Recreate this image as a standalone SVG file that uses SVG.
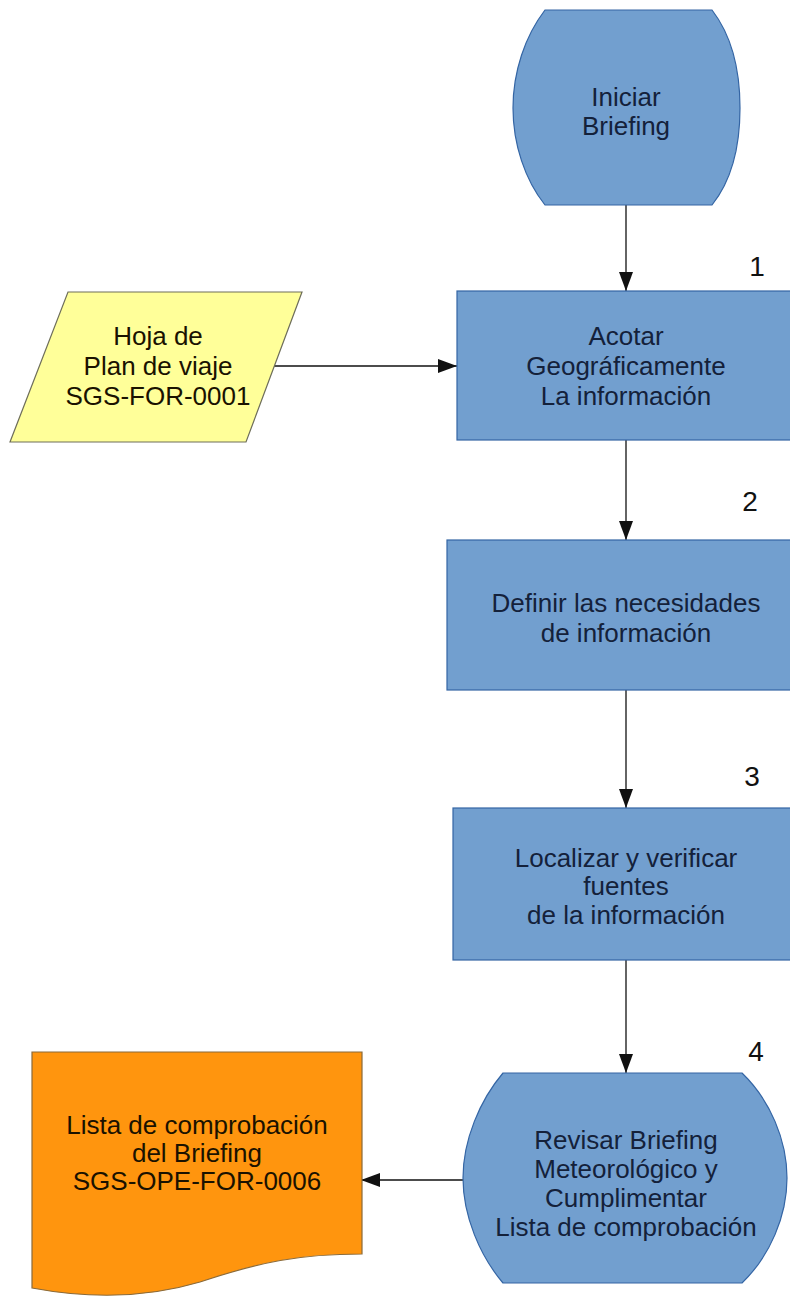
<svg xmlns="http://www.w3.org/2000/svg" width="790" height="1297" viewBox="0 0 790 1297">
  <style>
    .proc { fill: #729fcf; stroke: #3465a4; stroke-width: 1.2; }
    .input { fill: #ffff99; stroke: #6e6e5a; stroke-width: 1.2; }
    .doc { fill: #ff950e; stroke: #8a6a3a; stroke-width: 1.2; }
    .lbl { font-family: "Liberation Sans", Arial, sans-serif; font-size: 26px; fill: #14213a; text-anchor: middle; }
    .lbl-dark { font-family: "Liberation Sans", Arial, sans-serif; font-size: 26px; fill: #1a1200; text-anchor: middle; }
    .num { font-family: "Liberation Sans", Arial, sans-serif; font-size: 28px; fill: #111; text-anchor: middle; }
    .edge { fill: none; stroke: #111; stroke-width: 1.3; marker-end: url(#arrow); }
  </style>
  <defs>
    <marker id="arrow" viewBox="0 0 19 14" refX="19" refY="7" markerWidth="19" markerHeight="14" markerUnits="userSpaceOnUse" orient="auto">
      <path d="M0,0 L19,7 L0,14 Z" fill="#111"/>
    </marker>
  </defs>

  <rect width="790" height="1297" fill="#ffffff"/>

  <!-- connectors -->
  <g id="connectors">
    <path class="edge" d="M626,205 V291"/>
    <path class="edge" d="M273,366 H457"/>
    <path class="edge" d="M626,440 V540"/>
    <path class="edge" d="M626,690 V808"/>
    <path class="edge" d="M626,960 V1073"/>
    <path class="edge" d="M463,1180 H361"/>
  </g>

  <!-- start terminator -->
  <g id="start">
    <path class="proc" d="M545,10 H712 C732,36 740,72 740,108 C740,144 732,180 712,205 H545 C525,180 513,144 513,108 C513,72 525,36 545,10 Z"/>
    <text class="lbl" x="626" y="106">Iniciar</text>
    <text class="lbl" x="626" y="135">Briefing</text>
  </g>

  <!-- input: flight plan sheet -->
  <g id="plan-viaje">
    <polygon class="input" points="68,292 302,292 246,442 10,442"/>
    <text class="lbl-dark" x="158" y="345">Hoja de</text>
    <text class="lbl-dark" x="158" y="375">Plan de viaje</text>
    <text class="lbl-dark" x="158" y="405">SGS-FOR-0001</text>
  </g>

  <!-- step 1 -->
  <g id="step1">
    <rect class="proc" x="457" y="291" width="340" height="149"/>
    <text class="num" x="757" y="276">1</text>
    <text class="lbl" x="626" y="345">Acotar</text>
    <text class="lbl" x="626" y="375">Geográficamente</text>
    <text class="lbl" x="626" y="405">La información</text>
  </g>

  <!-- step 2 -->
  <g id="step2">
    <rect class="proc" x="447" y="540" width="350" height="150"/>
    <text class="num" x="750" y="511">2</text>
    <text class="lbl" x="626" y="612">Definir las necesidades</text>
    <text class="lbl" x="626" y="642">de información</text>
  </g>

  <!-- step 3 -->
  <g id="step3">
    <rect class="proc" x="453" y="808" width="344" height="152"/>
    <text class="num" x="752" y="786">3</text>
    <text class="lbl" x="626" y="867">Localizar y verificar</text>
    <text class="lbl" x="626" y="895">fuentes</text>
    <text class="lbl" x="626" y="924">de la información</text>
  </g>

  <!-- step 4 terminator -->
  <g id="step4">
    <path class="proc" d="M503,1073 H742 C770,1100 787,1140 787,1178 C787,1216 770,1256 742,1283 H503 C480,1256 463,1216 463,1178 C463,1140 480,1100 503,1073 Z"/>
    <text class="num" x="756" y="1061">4</text>
    <text class="lbl" x="626" y="1149">Revisar Briefing</text>
    <text class="lbl" x="626" y="1178">Meteorológico y</text>
    <text class="lbl" x="626" y="1207">Cumplimentar</text>
    <text class="lbl" x="626" y="1236">Lista de comprobación</text>
  </g>

  <!-- output document -->
  <g id="checklist">
    <path class="doc" d="M32,1052 H362 V1254 C300,1254 260,1262 200,1282 C140,1300 80,1297 32,1288 Z"/>
    <text class="lbl-dark" x="197" y="1134">Lista de comprobación</text>
    <text class="lbl-dark" x="197" y="1162">del Briefing</text>
    <text class="lbl-dark" x="197" y="1190">SGS-OPE-FOR-0006</text>
  </g>
</svg>
